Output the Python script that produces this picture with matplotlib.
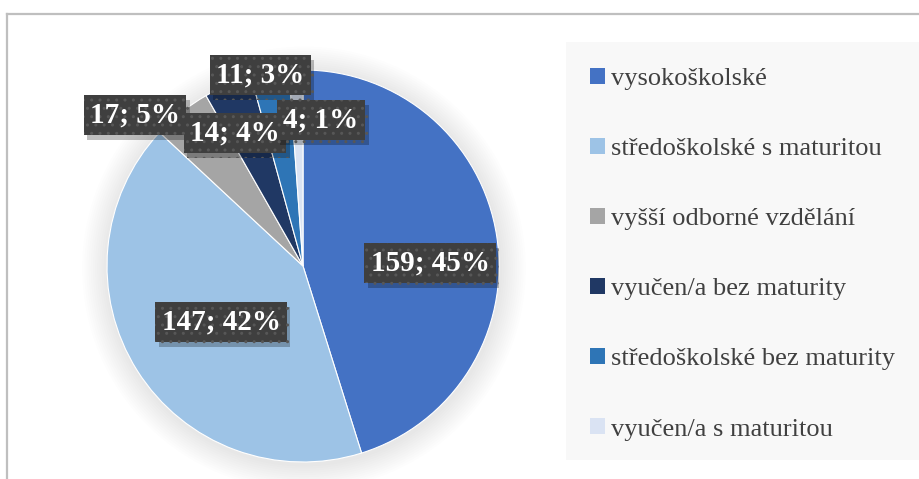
import matplotlib
matplotlib.use("Agg")
import matplotlib.pyplot as plt
import matplotlib.patheffects as pe
from matplotlib.patches import Rectangle, Circle
from matplotlib.lines import Line2D

# data
categories = [
    "vysokoškolské",
    "středoškolské s maturitou",
    "vyšší odborné vzdělání",
    "vyučen/a bez maturity",
    "středoškolské bez maturity",
    "vyučen/a s maturitou",
]
counts = [159, 147, 17, 14, 11, 4]
percents = [45, 42, 5, 4, 3, 1]
colors = ["#4472C4", "#9DC3E6", "#A5A5A5", "#203864", "#2E75B6", "#DAE3F3"]

# where each data label box sits (pie units, centre = 0,0)
label_pos = [(0.648, 0.015), (-0.418, -0.286), (-0.857, 0.770),
             (-0.347, 0.679), (-0.219, 0.974), (0.092, 0.745)]

W, H = 920, 479
fig = plt.figure(figsize=(W / 100, H / 100), dpi=100)
fig.patch.set_facecolor("white")

# outer chart border (only top and left visible in the crop)
fig.add_artist(Line2D([7 / W, 7 / W], [0, 1 - 14 / H], color="#BFBFBF", lw=1.6,
                      transform=fig.transFigure))
fig.add_artist(Line2D([7 / W, 1], [1 - 14 / H, 1 - 14 / H], color="#BFBFBF", lw=1.6,
                      transform=fig.transFigure))

# legend background
fig.add_artist(Rectangle((566 / W, 1 - 460 / H), (W - 566) / W, (460 - 42) / H,
                         transform=fig.transFigure, fc="#F8F8F8", ec="none", zorder=0))

cx, cy, r = 303, 266, 196
ax = fig.add_axes([(cx - r) / W, (H - cy - r) / H, 2 * r / W, 2 * r / H])
ax.set_facecolor("none")

# soft shadow around the pie
for k in range(12, 0, -1):
    ax.add_patch(Circle((0.005, -0.012), 1 + k * 0.011, fc="#000000", alpha=0.009,
                        ec="none", zorder=0, clip_on=False))

wedges, _ = ax.pie(counts, colors=colors, startangle=90, counterclock=False,
                   radius=1, wedgeprops=dict(edgecolor="white", linewidth=0.8))
for w in wedges:
    w.set_zorder(2)
    w.set_clip_on(False)

for (x, y), n, p in zip(label_pos, counts, percents):
    t = ax.text(x, y, f"{n}; {p}%", ha="center", va="center", fontsize=21,
                fontweight="bold", family="Liberation Serif", color="white",
                bbox=dict(boxstyle="square,pad=0.22", fc="#3F3F3F", ec="#575757",
                          lw=0, hatch=".."),
                zorder=4, clip_on=False)
    t.get_bbox_patch().set_path_effects(
        [pe.SimplePatchShadow(offset=(2.5, -3.5), shadow_rgbFace="#000000", alpha=0.25),
         pe.Normal()])

ax.set_xlim(-1, 1)
ax.set_ylim(-1, 1)
ax.set_aspect("equal")
ax.axis("off")

handles = [Rectangle((0, 0), 1, 1, fc=c, ec="none") for c in colors]
leg = fig.legend(handles, categories, loc="upper left",
                 bbox_to_anchor=(590 / W, 1 - 68 / H), frameon=False,
                 prop=dict(family="Liberation Serif", size=19),
                 labelcolor="#404040", handlelength=0.55, handleheight=0.55,
                 handletextpad=0.25, labelspacing=1.81, borderpad=0,
                 borderaxespad=0)

fig.savefig("out.png", dpi=100)
